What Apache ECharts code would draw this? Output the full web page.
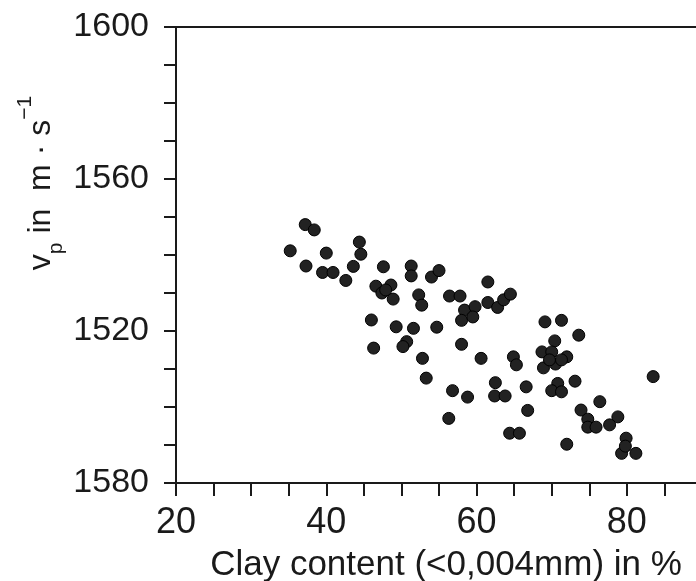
<!DOCTYPE html>
<html>
<head>
<meta charset="utf-8">
<script src="https://cdn.jsdelivr.net/npm/echarts@6/dist/echarts.min.js"></script>
<style>
html,body{margin:0;padding:0;background:#fff;}
#chart{width:696px;height:581px;}
</style>
</head>
<body>
<div id="chart"></div>
<script>
// Clay content (%) of each sample
const clayContent = [
  35.2, 37.2, 38.4, 40.0, 44.4, 44.6, 37.3, 39.5, 40.9, 43.6,
  42.6, 47.6, 46.6, 47.4, 48.6, 48.9, 47.9, 46.0, 49.3, 51.3,
  51.3, 52.3, 52.7, 54.0, 55.0, 51.6, 54.7, 46.3, 50.7, 50.2,
  56.4, 57.8, 58.4, 58.0, 59.8, 59.5, 61.5, 62.8, 63.6, 64.5,
  61.5, 58.0, 52.8, 60.6, 64.9, 65.3, 53.3, 56.8, 58.8, 62.5,
  62.4, 63.8, 66.6, 66.8, 56.3, 64.4, 65.7, 69.1, 71.3, 73.6,
  70.4, 68.7, 70.0, 72.0, 68.9, 70.5, 71.3, 69.7, 70.8, 70.0,
  71.3, 73.1, 72.0, 76.4, 73.9, 74.8, 74.8, 75.9, 78.8, 77.7,
  79.9, 79.3, 81.2, 79.8, 83.5
];
// P-wave velocity (m/s) of each sample
const vp = [
  1541.1, 1548.0, 1546.6, 1540.5, 1543.4, 1540.2, 1537.1, 1535.4, 1535.4, 1537.0,
  1533.3, 1536.9, 1531.8, 1530.0, 1532.1, 1528.4, 1530.8, 1522.9, 1521.1, 1537.1,
  1534.5, 1529.5, 1526.8, 1534.2, 1535.9, 1520.7, 1521.0, 1515.5, 1517.2, 1515.9,
  1529.2, 1529.2, 1525.5, 1522.8, 1526.4, 1523.7, 1527.5, 1526.2, 1528.2, 1529.7,
  1532.9, 1516.5, 1512.8, 1512.8, 1513.2, 1511.1, 1507.6, 1504.3, 1502.6, 1506.4,
  1502.9, 1502.9, 1505.3, 1499.1, 1497.0, 1493.1, 1493.1, 1522.4, 1522.8, 1518.9,
  1517.4, 1514.5, 1514.5, 1513.2, 1510.3, 1511.3, 1512.4, 1512.4, 1506.2, 1504.3,
  1504.0, 1506.8, 1490.2, 1501.4, 1499.2, 1496.8, 1494.7, 1494.7, 1497.4, 1495.3,
  1491.8, 1487.8, 1487.8, 1489.7, 1508.0
];
// Tick labels as printed in the figure
const xTickValues = [20, 40, 60, 80];
const xTickLabels = ['20', '40', '60', '80'];
const yTickValues = [1480, 1520, 1560, 1600];
const yTickLabels = ['1580', '1520', '1560', '1600'];

const points = clayContent.map((x, i) => [x, vp[i]]);

const chart = echarts.init(document.getElementById('chart'), null, {renderer: 'canvas'});
const FONT = 'Liberation Sans';
const INK = '#1a1a1a';

chart.setOption({
  backgroundColor: '#fff',
  animation: false,
  grid: {left: 176, top: 27, right: 0, bottom: 98, containLabel: false, outerBoundsMode: 'none'},
  xAxis: [{
    type: 'value', min: 20, max: 89.2, interval: 5,
    axisLine: {show: true, onZero: false, lineStyle: {color: INK, width: 2}},
    axisTick: {show: true, inside: false, length: 13, lineStyle: {color: INK, width: 2}},
    splitLine: {show: false},
    axisLabel: {
      margin: 22, fontFamily: FONT, fontSize: 36, color: INK,
      showMaxLabel: false,
      formatter: v => { const k = xTickValues.indexOf(v); return k >= 0 ? xTickLabels[k] : ''; }
    },
    name: 'Clay content (<0,004mm) in %',
    nameLocation: 'middle', nameGap: 65,
    nameTextStyle: {fontFamily: FONT, fontSize: 35, color: INK, padding: [0, 0, 0, 20]}
  }, {
    type: 'value', position: 'top', min: 20, max: 89.2,
    axisLine: {show: true, lineStyle: {color: INK, width: 2}},
    axisTick: {show: false}, axisLabel: {show: false}, splitLine: {show: false}
  }],
  yAxis: {
    type: 'value', min: 1480, max: 1600, interval: 10,
    axisLine: {show: true, onZero: false, lineStyle: {color: INK, width: 2}},
    axisTick: {show: true, inside: false, length: 12, lineStyle: {color: INK, width: 2}},
    splitLine: {show: false},
    axisLabel: {
      margin: 27, fontFamily: FONT, fontSize: 34, color: INK,
      formatter: v => { const k = yTickValues.indexOf(v); return k >= 0 ? yTickLabels[k] : ''; }
    }
  },
  graphic: [{
    type: 'text',
    x: 41, y: 183,
    rotation: Math.PI / 2,
    style: {
      text: '{m|v}{sub|p}{m| in  m · s}{sup|−1}',
      textAlign: 'center', textVerticalAlign: 'middle',
      fill: INK,
      rich: {
        m: {fontFamily: FONT, fontSize: 32, lineHeight: 52, verticalAlign: 'middle', fill: INK},
        sub: {fontFamily: FONT, fontSize: 21, lineHeight: 21, verticalAlign: 'bottom', fill: INK},
        sup: {fontFamily: FONT, fontSize: 21, lineHeight: 22, verticalAlign: 'top', fill: INK}
      }
    }
  }],
  series: [{
    type: 'scatter',
    data: points,
    symbol: 'circle',
    symbolSize: 12,
    itemStyle: {color: '#222', borderColor: '#000', borderWidth: 1, opacity: 1}
  }]
});
</script>
</body>
</html>
